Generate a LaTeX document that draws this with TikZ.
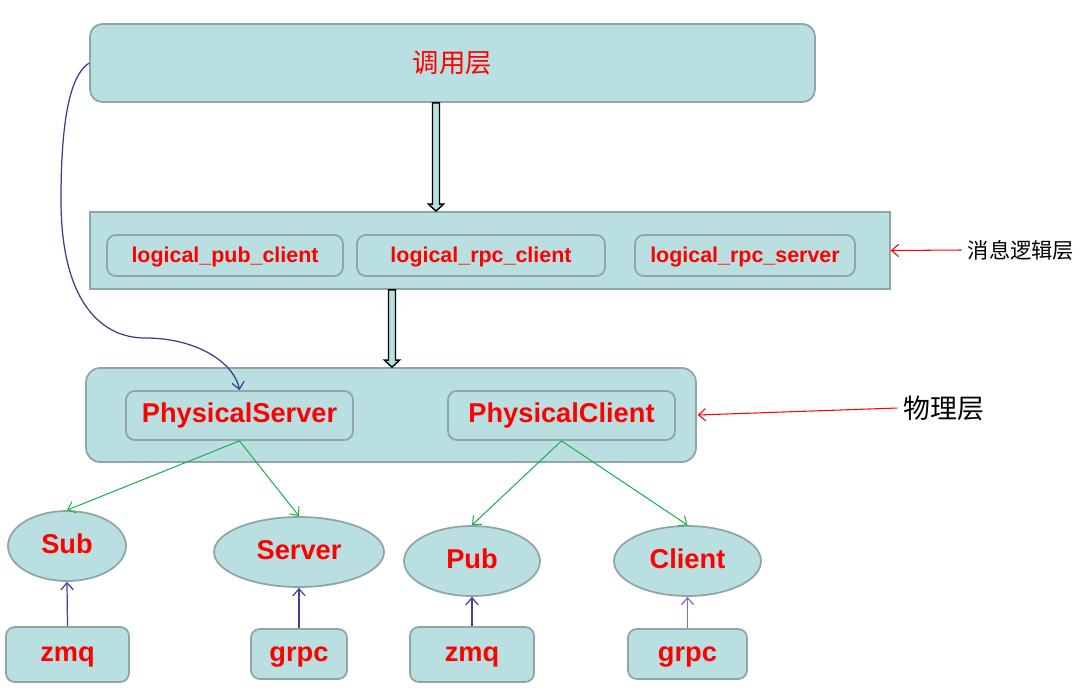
\documentclass[tikz,border=0pt]{standalone}
\usepackage{fontspec}
\setmainfont{Liberation Sans}
\newfontfamily\cjk{Noto Sans CJK SC}
\usepackage{xcolor}
\usetikzlibrary{positioning, arrows.meta, calc, shapes.geometric}

\definecolor{boxfill}{RGB}{185,223,225}
\definecolor{boxline}{RGB}{143,165,166}
\definecolor{linkgreen}{RGB}{34,177,76}
\definecolor{linkblue}{RGB}{64,64,160}
\definecolor{linkpurple}{RGB}{150,100,200}

% hollow down arrow between two layers
\newcommand{\layerarrow}[2]{%
    \draw[bigarrow] let \p1=(#1), \p2=(#2) in
        (\x1-2pt,\y1) -- (\x1+2pt,\y1) -- (\x1+2pt,\y2+4pt) -- (\x1+4.3pt,\y2+4pt)
        -- (\x1,\y2) -- (\x1-4.3pt,\y2+4pt) -- (\x1-2pt,\y2+4pt) -- cycle;}

\begin{document}
\begin{tikzpicture}[
    x=0.02cm, y=-0.02cm,
    % box styles
    layerbox/.style={
        rectangle,
        draw=boxline,
        fill=boxfill,
        line width=1pt,
        inner sep=0pt
    },
    modbox/.style={
        layerbox,
        rounded corners=5pt,
        text=red,
        text height=0.96em,
        text depth=0.16em,
        font=\bfseries\fontsize{15.5}{18}\selectfont
    },
    logicbox/.style={
        modbox,
        minimum height=0.82cm,
        font=\bfseries\fontsize{12.2}{14}\selectfont
    },
    endpoint/.style={
        ellipse,
        draw=boxline,
        fill=boxfill,
        line width=1pt,
        inner sep=0pt,
        minimum height=1.4cm,
        text=red,
        text height=0.96em,
        text depth=0.16em,
        font=\bfseries\fontsize{15.5}{18}\selectfont
    },
    sidelabel/.style={font=\cjk\fontsize{15.3}{18}\selectfont},
    bigarrow/.style={draw=black, fill=boxfill, line width=0.8pt},
    redlink/.style={-{Straight Barb[length=4pt, width=7pt]}, red, line width=0.6pt},
    greenlink/.style={-{Straight Barb[length=4pt, width=7pt]}, linkgreen, line width=0.6pt},
    bluelink/.style={-{Straight Barb[length=4pt, width=7pt]}, linkblue, line width=0.7pt}
]
    \useasboundingbox (0,0) rectangle (1086,697);

    % Layers
    \node[layerbox, rounded corners=7pt, minimum width=14.5cm, minimum height=1.56cm,
          text=red, font=\cjk\fontsize{15}{18}\selectfont] (call) at (452.5,63) {调用层};

    \node[layerbox, minimum width=16cm, minimum height=1.54cm] (logic) at (490,250.5) {};
    \node[logicbox, minimum width=4.72cm] (lpc) at (225,255.5) {logical\_pub\_client};
    \node[logicbox, minimum width=4.96cm] (lrc) at (481,255.5) {logical\_rpc\_client};
    \node[logicbox, minimum width=4.4cm] (lrs) at (745,255.5) {logical\_rpc\_server};

    \node[layerbox, rounded corners=8pt, minimum width=12.2cm, minimum height=1.88cm] (phys) at (391,415) {};
    \node[modbox, minimum width=4.54cm, minimum height=0.98cm] (ps) at (239.5,415.5) {PhysicalServer};
    \node[modbox, minimum width=4.54cm, minimum height=0.98cm] (pc) at (561.5,415.5) {PhysicalClient};

    % Side labels
    \node[sidelabel, font=\cjk\fontsize{12.1}{14}\selectfont] (lbllogic) at (1021,250) {消息逻辑层};
    \node[sidelabel] (lblphys) at (944,408) {物理层};

    % Endpoints
    \node[endpoint, minimum width=2.36cm] (sub) at (67,546) {Sub};
    \node[endpoint, minimum width=3.4cm] (server) at (299,552) {Server};
    \node[endpoint, minimum width=2.72cm] (pub) at (472,561) {Pub};
    \node[endpoint, minimum width=2.94cm] (client) at (687.5,561) {Client};

    % Transports
    \node[modbox, minimum width=2.46cm, minimum height=1.1cm] (zmqa) at (67.5,654.5) {zmq};
    \node[modbox, minimum width=1.92cm, minimum height=1.0cm] (grpca) at (299,654) {grpc};
    \node[modbox, minimum width=2.48cm, minimum height=1.1cm] (zmqb) at (472,654.5) {zmq};
    \node[modbox, minimum width=2.38cm, minimum height=1.0cm] (grpcb) at (687.5,654) {grpc};

    % Edges
    \layerarrow{$(call.south)+(-16.5,0)$}{logic.north}
    \layerarrow{$(logic.south)+(-98,0)$}{phys.north}

    \draw[redlink] (lbllogic.west) -- (logic.east);
    \draw[redlink] (lblphys.west) -- ($(phys.east)+(1,0)$);

    \draw[bluelink, linkblue!90!black] (call.west) .. controls (70,75) and (61,120) .. (61,200)
        .. controls (61,300) and (100,338) .. (145,338)
        .. controls (200,338) and (235,365) .. (ps.north);

    \draw[greenlink] (ps.south) -- (sub.north);
    \draw[greenlink] (ps.south) -- (server.north);
    \draw[greenlink] (pc.south) -- (pub.north);
    \draw[greenlink] (pc.south) -- (client.north);

    \draw[bluelink] (zmqa.north) -- (sub.south);
    \draw[bluelink] (grpca.north) -- (server.south);
    \draw[bluelink] (zmqb.north) -- (pub.south);
    \draw[bluelink, linkpurple] (grpcb.north) -- (client.south);

\end{tikzpicture}
\end{document}
